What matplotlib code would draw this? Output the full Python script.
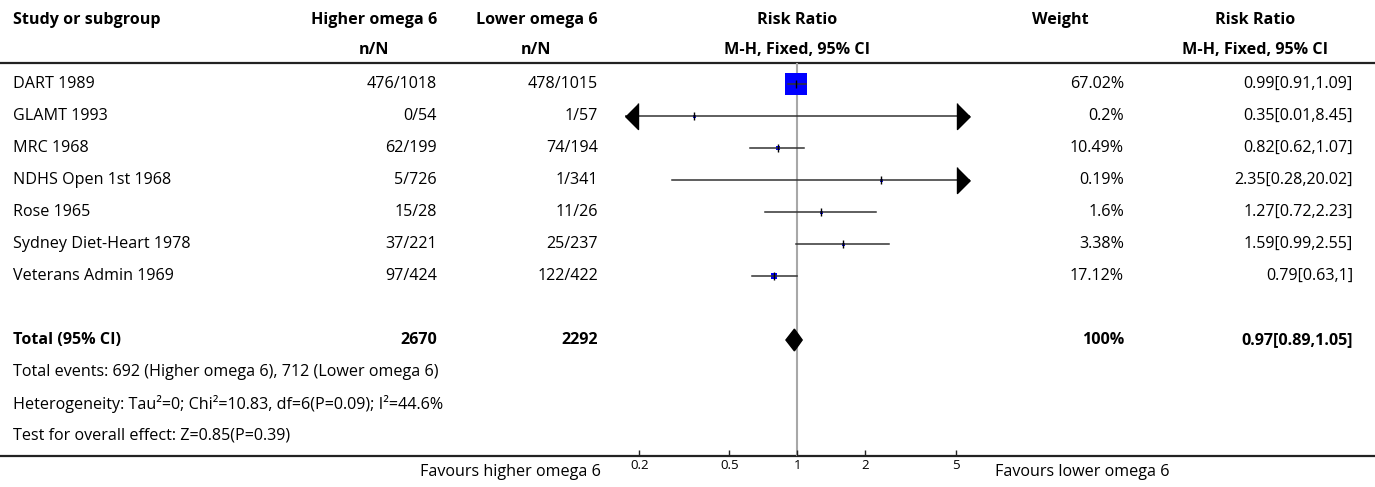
import matplotlib
matplotlib.use("Agg")
import matplotlib.pyplot as plt
from matplotlib.patches import Polygon
import numpy as np

plt.rcParams['font.family'] = ['Open Sans', 'DejaVu Sans']

studies = ["DART 1989", "GLAMT 1993", "MRC 1968", "NDHS Open 1st 1968",
           "Rose 1965", "Sydney Diet-Heart 1978", "Veterans Admin 1969"]
higher_n = [476, 0, 62, 5, 15, 37, 97]
higher_N = [1018, 54, 199, 726, 28, 221, 424]
lower_n = [478, 1, 74, 1, 11, 25, 122]
lower_N = [1015, 57, 194, 341, 26, 237, 422]
weights = [67.02, 0.2, 10.49, 0.19, 1.6, 3.38, 17.12]
rr = [0.99, 0.35, 0.82, 2.35, 1.27, 1.59, 0.79]
rr_lo = [0.91, 0.01, 0.62, 0.28, 0.72, 0.99, 0.63]
rr_hi = [1.09, 8.45, 1.07, 20.02, 2.23, 2.55, 1.0]

total_higher = 2670
total_lower = 2292
total_weight = 100
total_rr, total_lo, total_hi = 0.97, 0.89, 1.05
events_higher, events_lower = 692, 712
footnotes = ["Total events: 692 (Higher omega 6), 712 (Lower omega 6)",
             "Heterogeneity: Tau\u00b2=0; Chi\u00b2=10.83, df=6(P=0.09); I\u00b2=44.6%",
             "Test for overall effect: Z=0.85(P=0.39)"]
xticks = [0.2, 0.5, 1, 2, 5]
xtick_labels = ["0.2", "0.5", "1", "2", "5"]

W, H = 1375, 487
fig = plt.figure(figsize=(W / 100, H / 100), dpi=100)

# row geometry (pixels)
row0, pitch = 84, 32
top_line_px, bot_line_px = 63, 456
def prow(px):
    return (px - row0) / pitch

tab = fig.add_axes([0, 0, 1, 1])
tab.set_xlim(0, W)
tab.set_ylim(prow(H), prow(0))
tab.axis('off')

fs = 11.6
hdr1, hdr2 = prow(20), prow(50)
X_STUDY, X_HI, X_LO, X_RR, X_W, X_RRT = 13, 437, 598, 797, 1124, 1353

def T(x, y, s, ha='left', bold=False, size=fs):
    tab.text(x, y, s, ha=ha, va='center', fontsize=size,
             fontweight='bold' if bold else 'normal', color='black')

T(X_STUDY, hdr1, "Study or subgroup", bold=True)
T(X_HI, hdr1, "Higher omega 6", ha='right', bold=True)
T(X_LO, hdr1, "Lower omega 6", ha='right', bold=True)
T(X_RR, hdr1, "Risk Ratio", ha='center', bold=True)
T(1060, hdr1, "Weight", ha='center', bold=True)
T(1255, hdr1, "Risk Ratio", ha='center', bold=True)
T(374, hdr2, "n/N", ha='center', bold=True)
T(536, hdr2, "n/N", ha='center', bold=True)
T(X_RR, hdr2, "M-H, Fixed, 95% CI", ha='center', bold=True)
T(1255, hdr2, "M-H, Fixed, 95% CI", ha='center', bold=True)

tab.plot([0, W], [prow(top_line_px)] * 2, color='#222222', lw=1.6, solid_capstyle='butt')
tab.plot([0, W], [prow(bot_line_px)] * 2, color='#222222', lw=1.6, solid_capstyle='butt')

for i, s in enumerate(studies):
    T(X_STUDY, i, s)
    T(X_HI, i, f"{higher_n[i]}/{higher_N[i]}", ha='right')
    T(X_LO, i, f"{lower_n[i]}/{lower_N[i]}", ha='right')
    T(X_W, i, f"{weights[i]:g}%", ha='right')
    T(X_RRT, i, f"{rr[i]:g}[{rr_lo[i]:g},{rr_hi[i]:g}]", ha='right')

ti = len(studies) + 1
T(X_STUDY, ti, "Total (95% CI)", bold=True)
T(X_HI, ti, f"{total_higher}", ha='right', bold=True)
T(X_LO, ti, f"{total_lower}", ha='right', bold=True)
T(X_W, ti, f"{total_weight:g}%", ha='right', bold=True)
T(X_RRT, ti, f"{total_rr:g}[{total_lo:g},{total_hi:g}]", ha='right', bold=True)
for k, s in enumerate(footnotes):
    T(X_STUDY, ti + 1 + k, s)

fav_y = prow(472)
T(601, fav_y, "Favours higher omega 6", ha='right')
T(995, fav_y, "Favours lower omega 6")

# forest axes
L, R = 625, 970
ax = fig.add_axes([L / W, (H - bot_line_px) / H, (R - L) / W, (bot_line_px - top_line_px) / H])
ax.set_xscale('log')
xmin, xmax = 10 ** -0.762, 10 ** 0.763
ax.set_xlim(xmin, xmax)
ax.set_ylim(prow(bot_line_px), prow(top_line_px))
ax.patch.set_alpha(0)
for sp in ax.spines.values():
    sp.set_visible(False)
ax.set_yticks([])
ax.xaxis.set_minor_locator(matplotlib.ticker.NullLocator())
ax.set_xticks(xticks)
ax.set_xticklabels(xtick_labels)
ax.tick_params(axis='x', direction='in', length=4.5, width=1, color='#222222',
               labelsize=9.5, pad=2)

ax.axvline(1, color='#a8a8a8', lw=1.5, zorder=1)

px2pt = 0.72
for i in range(len(studies)):
    side = max(22 * weights[i] / max(weights), 3.0) * px2pt
    ax.scatter([rr[i]], [i], s=side ** 2, marker='s', color='#0000ff', zorder=2, linewidths=0)
    ax.plot([rr_lo[i], rr_hi[i]], [i, i], color='#333333', lw=1.1, zorder=3)
    ax.plot([rr[i]], [i], marker='|', color='black', markersize=8 * px2pt, mew=1.0, zorder=4)
    if rr_lo[i] < xmin:
        ax.plot([xmin], [i], marker=[(1, 1), (1, -1), (0, 0)], markersize=26 * px2pt,
                color='black', clip_on=False, zorder=5, lw=0)
    if rr_hi[i] > xmax:
        ax.plot([xmax], [i], marker=[(-1, 1), (-1, -1), (0, 0)], markersize=26 * px2pt,
                color='black', clip_on=False, zorder=5, lw=0)

dh = 0.34
ax.add_patch(Polygon([(total_lo, ti), (total_rr, ti - dh), (total_hi, ti), (total_rr, ti + dh)],
                     closed=True, color='black', zorder=5))

fig.savefig("out.png", dpi=100)
